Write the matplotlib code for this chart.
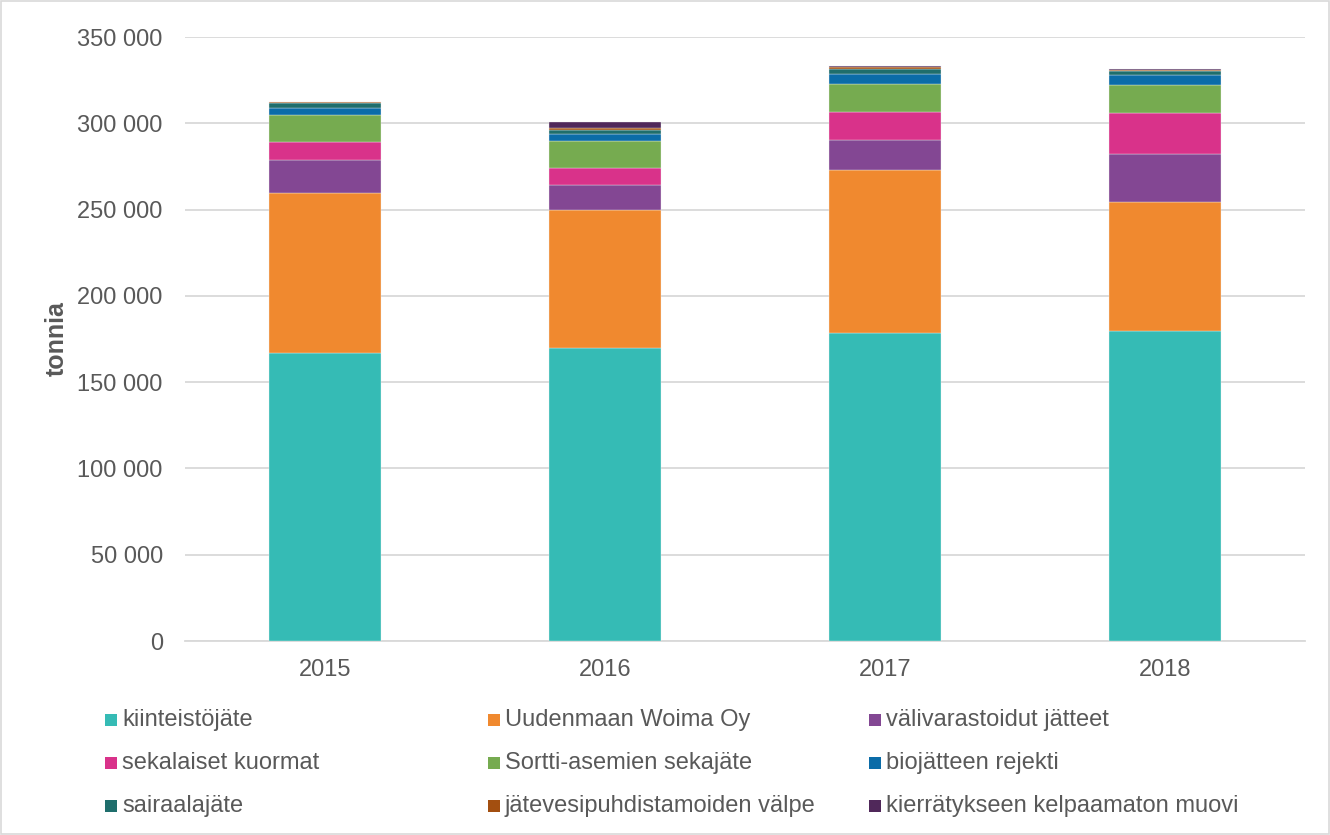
import matplotlib
matplotlib.use("Agg")
import matplotlib.pyplot as plt
from matplotlib.patches import Rectangle
from matplotlib.ticker import FuncFormatter
import numpy as np

# ---------------------------------------------------------
# Data (tonnia)
# ---------------------------------------------------------
years = ["2015", "2016", "2017", "2018"]

categories = [
    "kiinteistöjäte",
    "Uudenmaan Woima Oy",
    "välivarastoidut jätteet",
    "sekalaiset kuormat",
    "Sortti-asemien sekajäte",
    "biojätteen rejekti",
    "sairaalajäte",
    "jätevesipuhdistamoiden välpe",
    "kierrätykseen kelpaamaton muovi",
]

kiinteistojate = [166900, 169600, 178300, 179600]
uudenmaan_woima = [92900, 80000, 94500, 74800]
valivarastoidut = [18800, 14500, 17400, 27600]
sekalaiset_kuormat = [10800, 9850, 16200, 23800]
sortti_sekajate = [15500, 15500, 16200, 16400]
biojatteen_rejekti = [3900, 4200, 6150, 5600]
sairaalajate = [2700, 2500, 2700, 2500]
valpe = [800, 1300, 1150, 750]
muovi = [200, 3100, 600, 550]

series = [kiinteistojate, uudenmaan_woima, valivarastoidut, sekalaiset_kuormat,
          sortti_sekajate, biojatteen_rejekti, sairaalajate, valpe, muovi]

colors = ["#35BBB5", "#F0892F", "#834793", "#D9328A", "#76AB50",
          "#0B6CA8", "#1F6E6C", "#A34F10", "#50285A"]

TEXT_COLOR = "#595959"
GRID_COLOR = "#D9D9D9"
FONT_SIZE = 17

plt.rcParams["font.family"] = ["Liberation Sans", "DejaVu Sans"]

fig = plt.figure(figsize=(13.3, 8.35), dpi=100)
ax = fig.add_axes([185 / 1330, 1 - 641 / 835, 1120 / 1330, 604 / 835])

x = np.arange(len(years))
bottom = np.zeros(len(years))
for vals, col, lab in zip(series, colors, categories):
    ax.bar(x, vals, width=0.4, bottom=bottom, color=col, label=lab,
           edgecolor="#F2F2F2", linewidth=0.25, zorder=3)
    bottom += np.array(vals)

ax.set_xlim(-0.5, len(years) - 0.5)
ax.set_ylim(0, 350000)
ax.set_yticks(np.arange(0, 350001, 50000))
ax.yaxis.set_major_formatter(FuncFormatter(lambda v, p: f"{int(v):,}".replace(",", " ")))
ax.set_xticks(x)
ax.set_xticklabels(years)

ax.grid(axis="y", color=GRID_COLOR, linewidth=1.3, zorder=0)
for side in ["top", "right", "left"]:
    ax.spines[side].set_visible(False)
ax.spines["bottom"].set_color(GRID_COLOR)
ax.spines["bottom"].set_linewidth(1.3)
ax.tick_params(axis="both", length=0, labelsize=FONT_SIZE, colors=TEXT_COLOR)
ax.tick_params(axis="y", pad=16)
ax.tick_params(axis="x", pad=13)

ax.set_ylabel("tonnia", fontsize=FONT_SIZE + 1, fontweight="bold", color=TEXT_COLOR)
ax.yaxis.set_label_coords(-0.104, 0.5)

# Legenda em linhas (3 colunas), desenhada à mão
col_x = [105, 488, 869]
row_y = [720, 763, 806]
W, H = 1330, 835
for i, (lab, col) in enumerate(zip(categories, colors)):
    cx = col_x[i % 3]
    cy = row_y[i // 3]
    fig.add_artist(Rectangle((cx / W, 1 - (cy + 6) / H), 12 / W, 12 / H,
                             transform=fig.transFigure, facecolor=col, edgecolor="none"))
    fig.text((cx + 17) / W, 1 - cy / H, lab, fontsize=FONT_SIZE, color=TEXT_COLOR,
             ha="left", va="center")

# Kehys kuvan ympärillä
fig.add_artist(Rectangle((0.001, 0.001), 0.998, 0.998, transform=fig.transFigure,
                         fill=False, edgecolor=GRID_COLOR, linewidth=1.2))

fig.savefig("out.png", dpi=100)
